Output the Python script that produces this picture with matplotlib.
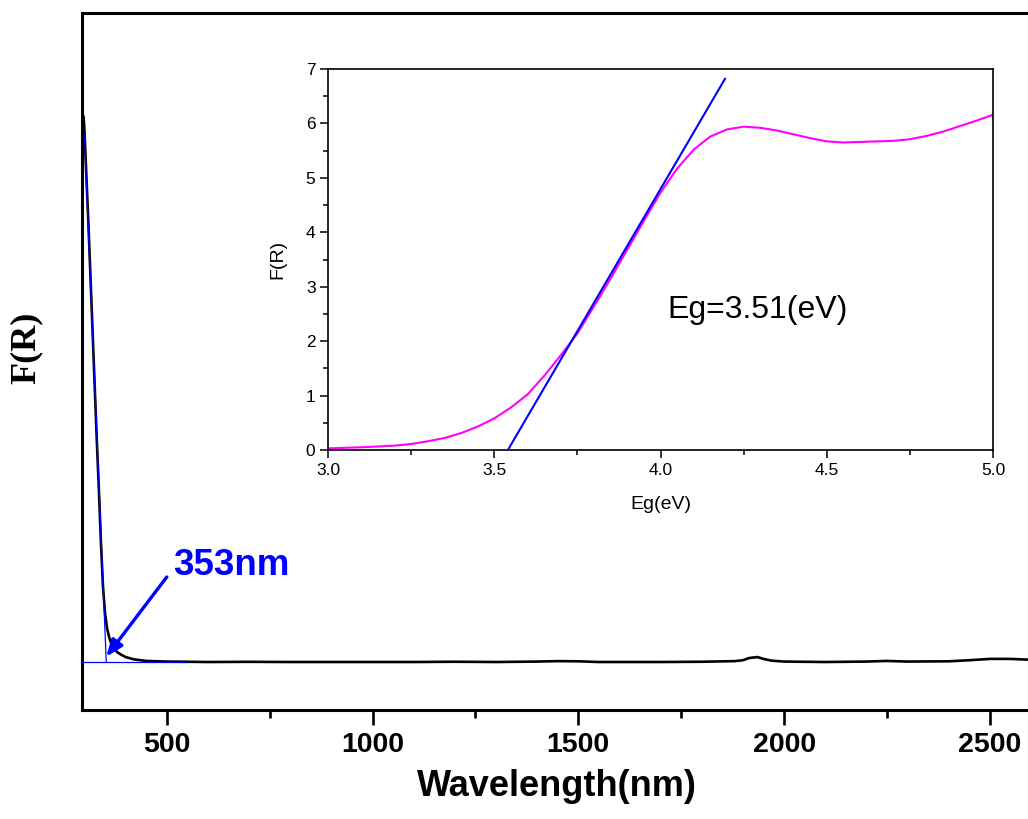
import matplotlib
matplotlib.use("Agg")
import matplotlib.pyplot as plt
from matplotlib.ticker import MultipleLocator, FormatStrFormatter

# ---- main spectrum data ----
wavelength = [295, 298, 300, 305, 310, 315, 320, 325, 330, 335, 340, 345, 350, 355, 360,
              365, 370, 380, 390, 400, 420, 450, 500, 600, 700, 800, 900, 1000, 1100,
              1200, 1300, 1400, 1450, 1500, 1550, 1600, 1700, 1800, 1880, 1900, 1915,
              1935, 1950, 1970, 2000, 2100, 2200, 2250, 2300, 2400, 2450, 2500, 2550,
              2600]
fr_main = [6.2, 6.15, 6.0, 5.45, 4.9, 4.3, 3.7, 3.1, 2.5, 1.95, 1.35, 0.85, 0.55, 0.38,
           0.28, 0.21, 0.16, 0.11, 0.08, 0.056, 0.03, 0.012, 0.005, 0.0, 0.002, 0.0,
           0.0, 0.0, 0.0, 0.003, 0.0, 0.005, 0.01, 0.008, 0.0, 0.0, 0.0, 0.003, 0.01,
           0.02, 0.045, 0.056, 0.035, 0.015, 0.005, 0.0, 0.005, 0.012, 0.005, 0.008,
           0.02, 0.035, 0.035, 0.025]

tangent_wl = [300, 353]
tangent_fr = [5.95, 0.0]
base_wl = [290, 545]
base_fr = [0.0, 0.0]
edge_label = "353nm"

# ---- inset (Tauc-like) data ----
eg = [3.0, 3.1, 3.2, 3.25, 3.3, 3.35, 3.4, 3.45, 3.5, 3.55, 3.6, 3.65, 3.7, 3.75, 3.8,
      3.85, 3.9, 3.95, 4.0, 4.05, 4.1, 4.15, 4.2, 4.25, 4.3, 4.35, 4.4, 4.45, 4.5, 4.55,
      4.6, 4.65, 4.7, 4.75, 4.8, 4.85, 4.9, 4.95, 5.0]
fr_inset = [0.03, 0.05, 0.08, 0.11, 0.16, 0.22, 0.31, 0.43, 0.58, 0.78, 1.02, 1.36, 1.74,
            2.14, 2.64, 3.15, 3.68, 4.21, 4.73, 5.17, 5.52, 5.76, 5.89, 5.94, 5.92, 5.87,
            5.8, 5.73, 5.67, 5.65, 5.66, 5.67, 5.68, 5.71, 5.77, 5.85, 5.95, 6.05, 6.16]
fit_eg = [3.541, 4.194]
fit_fr = [0.0, 6.82]
eg_label = "Eg=3.51(eV)"

fig = plt.figure(figsize=(10.28, 8.19), dpi=100)

# main axes
ax = fig.add_axes([82/1028, 1-710/819, (1031-82)/1028, (710-12.7)/819])
ax.plot(wavelength, fr_main, color="black", lw=1.9, zorder=2)
ax.plot(tangent_wl, tangent_fr, color="#0000FF", lw=0.9, zorder=3)
ax.plot(base_wl, base_fr, color="#0000FF", lw=0.9, zorder=3)
ax.set_xlim(294, 2600)
ax.set_ylim(-0.542, 7.333)
ax.xaxis.set_major_locator(MultipleLocator(500))
ax.xaxis.set_minor_locator(MultipleLocator(250))
ax.set_yticks([])
for s in ax.spines.values():
    s.set_linewidth(2.2)
ax.tick_params(axis="x", which="major", direction="out", length=10.5, width=1.9, pad=5)
ax.tick_params(axis="x", which="minor", direction="out", length=5.5, width=1.9)
for lab in ax.get_xticklabels():
    lab.set_fontfamily("Liberation Sans")
    lab.set_fontweight("bold")
    lab.set_fontsize(20.5)
ax.set_xlabel("Wavelength(nm)", fontfamily="Liberation Sans", fontweight="bold",
              fontsize=26, labelpad=8)
ax.set_ylabel("F(R)", fontfamily="Liberation Serif", fontweight="bold", fontsize=26)
ax.yaxis.set_label_coords(-0.041, 0.519)

ax.annotate("", xy=(353, 0.06), xytext=(500, 0.96),
            arrowprops=dict(arrowstyle="-|>,head_length=1.0,head_width=0.4",
                            color="#0000FF", lw=2.4, shrinkA=0, shrinkB=0))
ax.text(516, 1.09, edge_label, color="#0000FF", fontfamily="Liberation Sans",
        fontweight="bold", fontsize=26.5, ha="left", va="center")

# inset axes
ins = fig.add_axes([328/1028, 1-450/819, (993-328)/1028, (450-69)/819])
ins.plot(eg, fr_inset, color="#FF00FF", lw=1.5, zorder=2)
ins.plot(fit_eg, fit_fr, color="#0000FF", lw=1.5, zorder=3)
ins.set_xlim(3.0, 5.0)
ins.set_ylim(0, 7)
ins.xaxis.set_major_locator(MultipleLocator(0.5))
ins.xaxis.set_minor_locator(MultipleLocator(0.25))
ins.yaxis.set_major_locator(MultipleLocator(1))
ins.yaxis.set_minor_locator(MultipleLocator(0.5))
ins.xaxis.set_major_formatter(FormatStrFormatter("%.1f"))
for s in ins.spines.values():
    s.set_linewidth(1.2)
ins.tick_params(which="major", direction="out", length=6, width=1.1, labelsize=12.5, pad=3)
ins.tick_params(which="minor", direction="out", length=3.5, width=1.1)
for lab in ins.get_xticklabels() + ins.get_yticklabels():
    lab.set_fontfamily("Liberation Sans")
ins.set_xlabel("Eg(eV)", fontfamily="Liberation Sans", fontsize=14, labelpad=13)
ins.set_ylabel("F(R)", fontfamily="Liberation Sans", fontsize=14, labelpad=14)
ins.text(4.02, 2.57, eg_label, fontfamily="Liberation Sans", fontsize=23,
         ha="left", va="center")

fig.savefig("out.png", dpi=100)
